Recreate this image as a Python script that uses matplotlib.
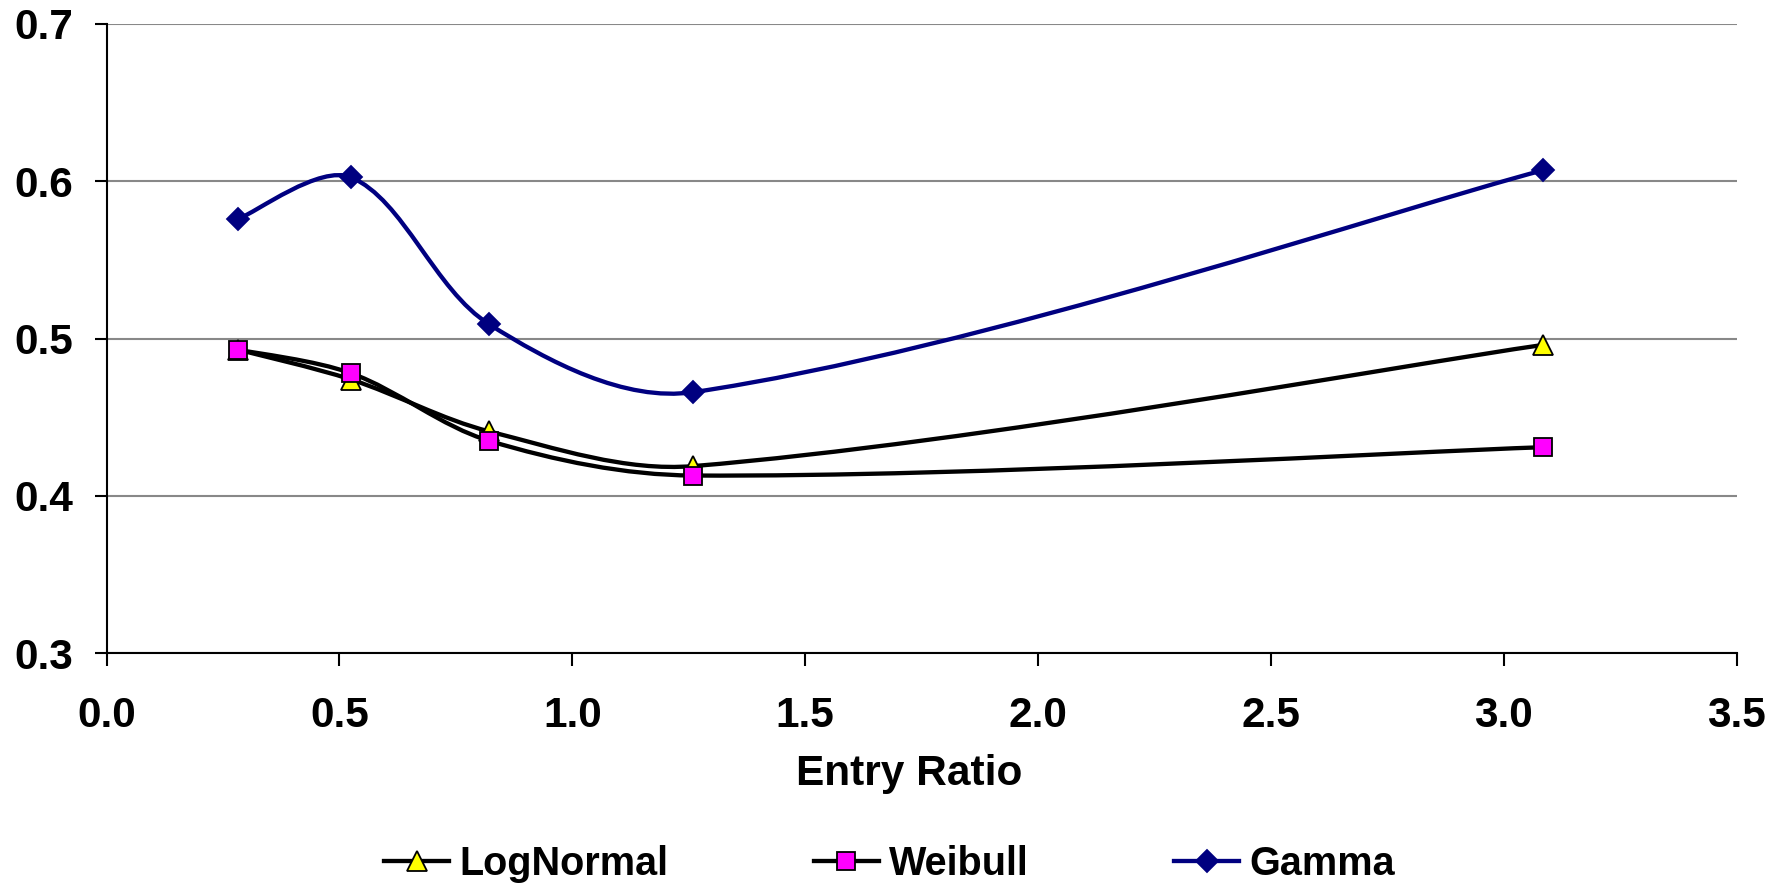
import numpy as np
import matplotlib
matplotlib.use("Agg")
import matplotlib.pyplot as plt
from matplotlib.path import Path
from matplotlib.patches import PathPatch
from matplotlib.lines import Line2D

# data
entry_ratio = [0.282, 0.525, 0.822, 1.260, 3.084]
lognormal = [0.493, 0.474, 0.441, 0.419, 0.496]
weibull = [0.493, 0.478, 0.435, 0.413, 0.431]
gamma = [0.576, 0.6025, 0.509, 0.466, 0.607]

x_ticks = [0.0, 0.5, 1.0, 1.5, 2.0, 2.5, 3.0, 3.5]
y_ticks = [0.3, 0.4, 0.5, 0.6, 0.7]

plt.rcParams['font.family'] = ['Liberation Sans', 'DejaVu Sans']
plt.rcParams['font.weight'] = 'bold'
FS = 30.5
LEG_FS = 28.5
LW = 3.1

fig = plt.figure(figsize=(17.86, 8.85), dpi=100)
ax = fig.add_axes([0.0597, 0.2618, 0.9127, 0.7111])
ax.set_xlim(0, 3.5)
ax.set_ylim(0.3, 0.7)


def smooth_path(xs, ys):
    # smoothed line like a spreadsheet chart: bezier segments whose
    # tangents are scaled by the neighbouring chord lengths (in pixels)
    pts = ax.transData.transform(np.column_stack([xs, ys]))
    n = len(pts)
    d = np.hypot(*np.diff(pts, axis=0).T)
    tang = []
    for i in range(n):
        a = pts[max(i - 1, 0)]
        b = pts[min(i + 1, n - 1)]
        tang.append(b - a)
    verts = [pts[0]]
    codes = [Path.MOVETO]
    for i in range(n - 1):
        dl = d[i - 1] if i > 0 else d[i]
        dr = d[i + 1] if i + 1 < n - 1 else d[i]
        c1 = pts[i] + tang[i] * d[i] / (dl + d[i]) / 3
        c2 = pts[i + 1] - tang[i + 1] * d[i] / (d[i] + dr) / 3
        verts += [c1, c2, pts[i + 1]]
        codes += [Path.CURVE4] * 3
    verts = ax.transData.inverted().transform(np.array(verts))
    return Path(verts, codes)


series = [
    ("LogNormal", lognormal, "black", "^", "#FFFF00", "black", 15),
    ("Weibull", weibull, "black", "s", "#FF00FF", "black", 13.5),
    ("Gamma", gamma, "#000080", "D", "#000080", "#000080", 11),
]

handles = []
for name, vals, col, mk, fc, ec, ms in series:
    ax.add_patch(PathPatch(smooth_path(entry_ratio, vals), facecolor='none',
                           edgecolor=col, lw=LW, zorder=3))
    ax.plot(entry_ratio, vals, ls='none', marker=mk, ms=ms, mfc=fc, mec=ec,
            mew=1.3, zorder=4)
    handles.append(Line2D([], [], color=col, lw=LW, marker=mk, ms=ms,
                          mfc=fc, mec=ec, mew=1.3, label=name))

ax.set_xticks(x_ticks)
ax.set_xticklabels([f"{v:.1f}" for v in x_ticks])
ax.set_yticks(y_ticks)
ax.set_yticklabels([f"{v:.1f}" for v in y_ticks])
ax.tick_params(axis='x', direction='out', length=9, width=1.5, pad=22,
               labelsize=FS)
ax.tick_params(axis='y', direction='out', length=9, width=1.5, pad=15,
               labelsize=FS)
for lab in ax.get_xticklabels() + ax.get_yticklabels():
    lab.set_fontweight('bold')

ax.spines['top'].set_visible(False)
ax.spines['right'].set_visible(False)
ax.spines['left'].set_linewidth(1.5)
ax.spines['bottom'].set_linewidth(1.5)
ax.yaxis.grid(True, color='#888888', lw=1.5)
ax.set_axisbelow(True)

fig.text(0.509, 0.113, "Entry Ratio", ha='center', va='baseline',
         fontsize=FS, fontweight='bold')

fig.legend(handles=handles, loc='center', bbox_to_anchor=(0.498, 0.024),
           ncol=3, frameon=False, handlelength=1.65,
           handletextpad=0.25, columnspacing=3.67,
           prop={'weight': 'bold', 'size': LEG_FS})

fig.savefig("out.png", dpi=100)
